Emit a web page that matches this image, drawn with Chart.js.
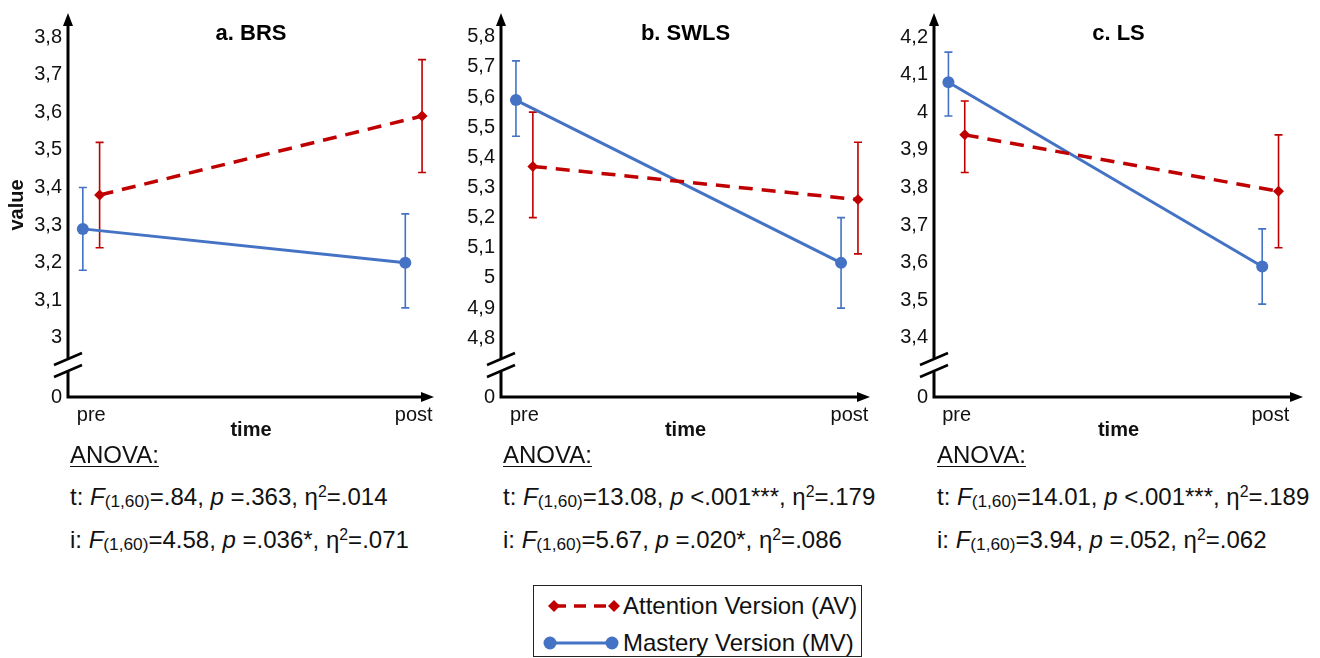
<!DOCTYPE html>
<html>
<head>
<meta charset="utf-8">
<script src="https://cdn.jsdelivr.net/npm/chart.js@4"></script>
<style>
  body { margin: 0; background: #fff; font-family: "Liberation Sans", Arial, sans-serif; color: #111; }
  #wrap { position: relative; width: 1320px; height: 658px; overflow: hidden; }
  canvas.panel { position: absolute; top: 0; }
  .anova { position: absolute; font-size: 24px; white-space: nowrap; }
  .anova div { position: absolute; left: 0; line-height: 24px; }
  .anova .hd { top: 443px; text-decoration: underline; text-decoration-thickness: 1px; text-underline-offset: 3px; }
  .anova .t { top: 485px; }
  .anova .i { top: 528px; }
  .anova sub { font-size: 72%; vertical-align: -2px; }
  .anova sup { font-size: 66%; vertical-align: 8px; line-height: 0; }
  #legend { position: absolute; left: 533px; top: 585px; width: 327px; height: 70px; border: 1.5px solid #222; }
  #legend .row { position: absolute; left: 6px; height: 26px; font-size: 24px; line-height: 26px; white-space: nowrap; }
  #legend svg { position: absolute; left: 0; top: 5px; }
  #legend span { position: absolute; left: 83px; top: 0; }
</style>
</head>
<body>
<div id="wrap">
  <canvas class="panel" id="chart-a" width="440" height="445" style="left:0px"></canvas>
  <canvas class="panel" id="chart-b" width="440" height="445" style="left:440px"></canvas>
  <canvas class="panel" id="chart-c" width="440" height="445" style="left:880px"></canvas>

  <div class="anova" style="left:70px; top:0">
    <div class="hd">ANOVA:</div>
    <div class="t">t: <i>F</i><sub>(1,60)</sub>=.84, <i>p</i> =.363, η<sup>2</sup>=.014</div>
    <div class="i">i: <i>F</i><sub>(1,60)</sub>=4.58, <i>p</i> =.036*, η<sup>2</sup>=.071</div>
  </div>
  <div class="anova" style="left:503px; top:0">
    <div class="hd">ANOVA:</div>
    <div class="t">t: <i>F</i><sub>(1,60)</sub>=13.08, <i>p</i> &lt;.001***, η<sup>2</sup>=.179</div>
    <div class="i">i: <i>F</i><sub>(1,60)</sub>=5.67, <i>p</i> =.020*, η<sup>2</sup>=.086</div>
  </div>
  <div class="anova" style="left:937px; top:0">
    <div class="hd">ANOVA:</div>
    <div class="t">t: <i>F</i><sub>(1,60)</sub>=14.01, <i>p</i> &lt;.001***, η<sup>2</sup>=.189</div>
    <div class="i">i: <i>F</i><sub>(1,60)</sub>=3.94, <i>p</i> =.052, η<sup>2</sup>=.062</div>
  </div>

  <div id="legend">
    <div class="row" style="top:7px">
      <svg width="80" height="16">
        <line x1="12" y1="8" x2="74" y2="8" stroke="#c00000" stroke-width="3.5" stroke-dasharray="12 8" stroke-dashoffset="-2"/>
        <polygon points="8,8 14,2 20,8 14,14" fill="#c00000"/>
        <polygon points="68,8 74,2 80,8 74,14" fill="#c00000"/>
      </svg>
      <span>Attention Version (AV)</span>
    </div>
    <div class="row" style="top:44px">
      <svg width="80" height="16">
        <line x1="10" y1="8" x2="72" y2="8" stroke="#4472c4" stroke-width="3"/>
        <circle cx="10" cy="8" r="6.5" fill="#4472c4"/>
        <circle cx="72" cy="8" r="6.5" fill="#4472c4"/>
      </svg>
      <span>Mastery Version (MV)</span>
    </div>
  </div>
</div>

<script>
// data
var timeLabels = ['pre', 'post'];
var panelTitles = ['a. BRS', 'b. SWLS', 'c. LS'];

var avMeans = [[3.38, 3.59], [5.37, 5.26], [3.94, 3.79]];
var avLow   = [[3.24, 3.44], [5.20, 5.08], [3.84, 3.64]];
var avHigh  = [[3.52, 3.74], [5.55, 5.45], [4.03, 3.94]];

var mvMeans = [[3.29, 3.20], [5.59, 5.05], [4.08, 3.59]];
var mvLow   = [[3.18, 3.08], [5.47, 4.90], [3.99, 3.49]];
var mvHigh  = [[3.40, 3.33], [5.72, 5.20], [4.16, 3.69]];

var yTicks = [
  [3.0, 3.1, 3.2, 3.3, 3.4, 3.5, 3.6, 3.7, 3.8],
  [4.8, 4.9, 5.0, 5.1, 5.2, 5.3, 5.4, 5.5, 5.6, 5.7, 5.8],
  [3.4, 3.5, 3.6, 3.7, 3.8, 3.9, 4.0, 4.1, 4.2]
];
// axis ranges: bottom of the broken axis is labelled 0
var yMin = [2.843, 4.605, 3.243];
var yMax = [3.864, 5.879, 4.264];

var RED = '#c00000';
var BLUE = '#4472c4';
var FONT = "'Liberation Sans', Arial, sans-serif";

// layout for each panel
var axisLeft = [68, 61, 54];
var padRight = [5, 10, 17];
var xMax = [1.063, 1.063, 1.104];
var dodge = 0.026;

var errorBars = {
  id: 'errorBars',
  beforeDatasetsDraw: function(chart) {
    var ctx = chart.ctx;
    var ys = chart.scales.y;
    chart.data.datasets.forEach(function(ds, di) {
      var meta = chart.getDatasetMeta(di);
      ctx.save();
      ctx.strokeStyle = ds.borderColor;
      ctx.lineWidth = 1.6;
      meta.data.forEach(function(pt, i) {
        var top = ys.getPixelForValue(ds.errHigh[i]);
        var bot = ys.getPixelForValue(ds.errLow[i]);
        ctx.beginPath();
        ctx.moveTo(pt.x, top); ctx.lineTo(pt.x, bot);
        ctx.moveTo(pt.x - 4, top); ctx.lineTo(pt.x + 4, top);
        ctx.moveTo(pt.x - 4, bot); ctx.lineTo(pt.x + 4, bot);
        ctx.stroke();
      });
      ctx.restore();
    });
  }
};

var arrowAxes = {
  id: 'arrowAxes',
  afterDraw: function(chart) {
    var ctx = chart.ctx;
    var a = chart.chartArea;
    var brk = a.bottom - 32;
    ctx.save();
    ctx.strokeStyle = '#000';
    ctx.fillStyle = '#000';
    ctx.lineWidth = 3;
    // y axis with a gap for the break
    ctx.beginPath();
    ctx.moveTo(a.left, a.bottom + 1.5); ctx.lineTo(a.left, brk + 7);
    ctx.moveTo(a.left, brk - 7); ctx.lineTo(a.left, a.top + 10);
    // x axis
    ctx.moveTo(a.left, a.bottom); ctx.lineTo(a.right - 10, a.bottom);
    ctx.stroke();
    // arrow heads
    ctx.beginPath();
    ctx.moveTo(a.left, a.top); ctx.lineTo(a.left - 5, a.top + 13); ctx.lineTo(a.left + 5, a.top + 13);
    ctx.closePath(); ctx.fill();
    ctx.beginPath();
    ctx.moveTo(a.right, a.bottom); ctx.lineTo(a.right - 13, a.bottom - 5); ctx.lineTo(a.right - 13, a.bottom + 5);
    ctx.closePath(); ctx.fill();
    // break marks
    ctx.lineWidth = 2.5;
    ctx.beginPath();
    ctx.moveTo(a.left - 14, brk); ctx.lineTo(a.left + 14, brk - 12);
    ctx.moveTo(a.left - 14, brk + 12); ctx.lineTo(a.left + 14, brk);
    ctx.stroke();
    // panel title
    ctx.font = 'bold 22px ' + FONT;
    ctx.textAlign = 'center';
    ctx.textBaseline = 'middle';
    ctx.fillText(chart.options.panelTitle, (a.left + a.right) / 2, 34);
    ctx.restore();
  }
};

function fmtTick(v) {
  return String(Number(v.toFixed(1))).replace('.', ',');
}

function makePanel(id, p) {
  var ctx = document.getElementById(id).getContext('2d');
  return new Chart(ctx, {
    type: 'line',
    data: {
      datasets: [{
        label: 'Attention Version (AV)',
        data: timeLabels.map(function(t, i) { return { x: i + dodge, y: avMeans[p][i] }; }),
        errLow: avLow[p],
        errHigh: avHigh[p],
        borderColor: RED,
        backgroundColor: RED,
        borderWidth: 3.5,
        borderDash: [14, 9],
        pointStyle: 'rectRot',
        pointRadius: 5.5,
        pointBorderWidth: 0
      }, {
        label: 'Mastery Version (MV)',
        data: timeLabels.map(function(t, i) { return { x: i - dodge, y: mvMeans[p][i] }; }),
        errLow: mvLow[p],
        errHigh: mvHigh[p],
        borderColor: BLUE,
        backgroundColor: BLUE,
        borderWidth: 3,
        pointStyle: 'circle',
        pointRadius: 6,
        pointBorderWidth: 0
      }]
    },
    options: {
      panelTitle: panelTitles[p],
      responsive: false,
      animation: false,
      layout: { padding: { top: 13, left: 0, right: padRight[p], bottom: 0 } },
      plugins: { legend: { display: false }, tooltip: { enabled: false } },
      scales: {
        x: {
          type: 'linear',
          min: -0.072,
          max: xMax[p],
          grid: { display: false, drawTicks: false },
          border: { display: false },
          afterBuildTicks: function(scale) {
            scale.ticks = timeLabels.map(function(t, i) { return { value: i }; });
          },
          afterFit: function(scale) {
            scale.height = 48;
            scale.paddingLeft = 0;
            scale.paddingRight = 0;
          },
          ticks: {
            autoSkip: false,
            padding: 6,
            color: '#111',
            font: { family: FONT, size: 20 },
            callback: function(v) { return timeLabels[v]; }
          },
          title: {
            display: true,
            text: 'time',
            color: '#111',
            padding: { top: 0, bottom: 3 },
            font: { family: FONT, size: 20, weight: 'bold' }
          }
        },
        y: {
          min: yMin[p],
          max: yMax[p],
          grid: { display: false, drawTicks: false },
          border: { display: false },
          afterBuildTicks: function(scale) {
            scale.ticks = [{ value: yMin[p] }].concat(yTicks[p].map(function(v) { return { value: v }; }));
          },
          afterFit: function(scale) {
            scale.width = axisLeft[p];
            scale.paddingTop = 0;
            scale.paddingBottom = 0;
          },
          ticks: {
            autoSkip: false,
            padding: 6,
            color: '#111',
            font: { family: FONT, size: 20 },
            callback: function(v) { return v === yMin[p] ? '0' : fmtTick(v); }
          },
          title: {
            display: p === 0,
            text: 'value',
            color: '#111',
            padding: { top: 5, bottom: 0 },
            font: { family: FONT, size: 20, weight: 'bold' }
          }
        }
      }
    },
    plugins: [errorBars, arrowAxes]
  });
}

makePanel('chart-a', 0);
makePanel('chart-b', 1);
makePanel('chart-c', 2);
</script>
</body>
</html>
